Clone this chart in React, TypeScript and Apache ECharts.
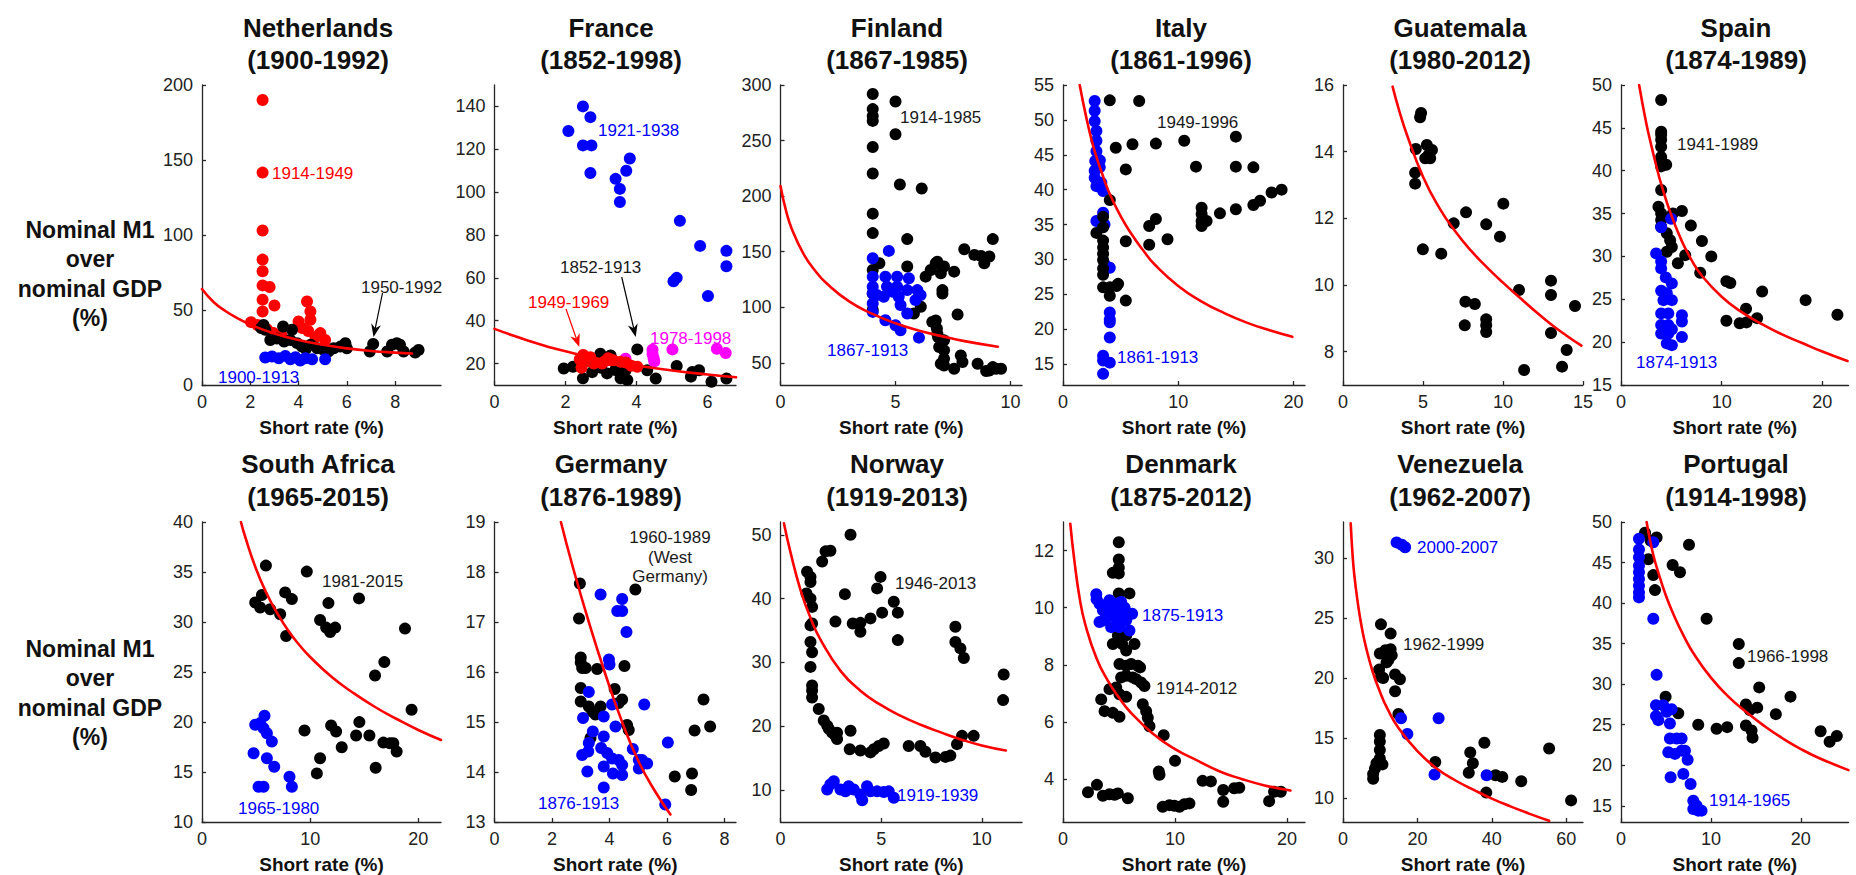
import React, { useEffect, useRef } from "react";
import * as echarts from "echarts";

type Pt = [number, number];

// ---------------- Netherlands (1900-1992) ----------------
const nlXTicks = [0, 2, 4, 6, 8];
const nlYTicks = [0, 50, 100, 150, 200];
const nlRed1914: Pt[] = [[2.51,190],[2.51,141.6],[2.51,103],[2.51,83.6],[2.51,75.8],[2.51,66.4],[2.8,65.3],[2.51,56.9],[2.51,49],[3.0,53],[2.03,41.9],[2.3,40],[2.7,37],[2.97,34.6],[3.3,33],[4.35,55.7],[4.49,49],[4.49,43.5],[4.0,42.4],[4.15,38],[4.4,36],[4.9,34.6],[5.1,30],[4.7,32]];
const nlBlack1950: Pt[] = [[2.55,40],[2.62,36.8],[2.45,38],[2.83,30],[3.1,31],[3.36,39],[3.73,36.8],[3.66,30],[3.94,27.9],[4.14,25.6],[4.5,26.8],[4.77,24.5],[5.04,23.4],[5.46,24.5],[5.73,25.6],[5.94,27.9],[6.0,24.5],[6.95,22.3],[7.09,27.4],[7.67,22.3],[7.87,26.8],[8.07,27.9],[8.2,26.8],[8.35,22.3],[8.83,21.6],[8.97,23.4],[3.4,29],[4.3,24],[5.25,22.5]];
const nlBlue1900: Pt[] = [[2.62,18.3],[2.9,19],[3.18,17.8],[3.45,19.4],[3.66,17.2],[3.87,18.5],[4.07,16.3],[4.28,17.8],[4.56,17.2],[5.1,17.2]];
const nlCurve: Pt[] = [[0,64],[0.5,55],[1,49],[1.5,44.3],[2,40.3],[3,34.3],[4,30],[5,26.8],[6,24.4],[7,22.7],[8,21.6],[8.7,21]];

// ---------------- France (1852-1998) ----------------
const frXTicks = [0, 2, 4, 6];
const frYTicks = [20, 40, 60, 80, 100, 120, 140];
const frBlue1921: Pt[] = [[2.08,128.5],[2.49,140],[2.7,135],[2.49,121.8],[2.73,121.8],[2.7,108.9],[3.41,106.2],[3.53,101.5],[3.53,95.4],[3.71,110],[3.81,115.7],[5.22,86.6],[5.04,58.4],[5.13,60],[5.79,74.9],[6.01,51.5],[6.53,72.6],[6.53,65.4]];
const frMagenta1978: Pt[] = [[4.45,26.5],[4.45,24.5],[4.48,22.5],[4.5,21],[5.01,26.6],[6.26,26.9],[6.51,24.9],[3.69,22.3]];
const frRed1949: Pt[] = [[2.4,22],[2.45,18],[2.5,24],[2.6,21],[2.7,23],[2.8,20],[3.03,20],[3.1,21],[3.2,22.5],[3.27,21.5],[3.35,21.5],[3.55,20.8],[3.7,20.5],[3.85,19],[4.02,18.5]];
const frBlack1852: Pt[] = [[1.95,17.7],[2.21,18.5],[2.49,13.1],[2.98,24.6],[3.17,15.4],[3.27,23.8],[3.55,13.1],[3.74,12.3],[3.69,16.9],[4.02,26.6],[4.3,16.9],[4.54,13],[5.13,18.9],[5.53,13.9],[5.57,16.1],[5.76,16.9],[6.11,11.5],[6.53,13],[2.75,16],[3.0,18],[3.4,17]];
const frCurve: Pt[] = [[0,36.2],[0.5,33.2],[1,30.4],[1.5,27.9],[2,25.7],[3,22],[4,19.1],[5,16.8],[6,14.9],[6.8,13.6]];

// ---------------- Finland (1867-1985) ----------------
const fiXTicks = [0, 5, 10];
const fiYTicks = [50, 100, 150, 200, 250, 300];
const fiBlack1914: Pt[] = [[4.01,291.9],[4.01,278.3],[4.01,272],[4.01,267.7],[4.01,244.2],[4.01,220.4],[4.01,184.2],[4.01,166.7],[5.0,285.2],[5.0,255.7],[5.19,210.4],[6.14,206.8],[5.51,161.3],[5.51,136.6],[4.3,139.6],[4.01,133.5],[6.31,127.5],[6.53,133.5],[6.82,141],[4.01,112.4],[5.8,94.3],[6.1,100.4],[6.6,86.8],[6.82,76.2],[6.9,64.2],[6.97,49.1],[6.75,139.6],[7.11,136.6],[6.97,130.5],[7.55,132],[7.04,115.4],[7.04,112.4],[7.7,93.4],[7.99,152.2],[8.43,147.1],[8.72,146.2],[8.86,139.6],[9.08,145.6],[9.23,161.3],[6.75,88],[6.8,80.8],[6.85,73.2],[7.55,44.6],[7.84,56.6],[7.91,50.6],[8.57,49.1],[8.94,42.5],[9.08,43.1],[9.23,46.1],[9.37,44.6],[9.59,44.6],[7.11,70.2],[7.11,61.2],[7.11,53.6],[7.11,47.6],[4.01,97.4]];
const fiBlue1867: Pt[] = [[4.01,144.1],[4.71,150.7],[4.01,127.5],[4.01,118.5],[4.01,112.4],[4.01,103.4],[4.01,95.8],[4.56,127.5],[4.63,118.5],[4.49,109.4],[5.07,127.5],[5.07,118.5],[5.14,109.4],[5.22,101.9],[5.58,126],[5.51,115.4],[5.95,115.4],[5.87,106.4],[6.09,110.9],[5.51,94.3],[4.56,88.3],[5.0,83.8],[5.22,79.3],[6.02,72.6],[4.2,110.9],[4.85,114]];
const fiCurve: Pt[] = [[0,209],[0.25,186],[0.5,170],[1,148],[1.5,133],[2,121.5],[3,105],[4,94],[5,85.5],[6,79],[7,74],[8,69.5],[9.45,64.5]];

// ---------------- Italy (1861-1996) ----------------
const itXTicks = [0, 10, 20];
const itYTicks = [15, 20, 25, 30, 35, 40, 45, 50, 55];
const itBlue1861: Pt[] = [[2.75,52.7],[2.75,51.3],[2.75,49.8],[2.9,48.4],[2.9,47],[2.9,45.5],[2.8,44.1],[2.75,42.7],[2.75,41.7],[3.19,43.2],[3.33,41],[3.48,39.8],[2.9,40.5],[2.9,35.5],[3.48,36.7],[3.62,29.3],[4.06,28.8],[4.06,22.4],[4.06,21.4],[4.06,21],[4.06,18.8],[3.48,16.2],[3.48,15.5],[4.06,15.2],[3.48,13.6],[3.2,44.2],[3.6,35]];
const itBlack1949: Pt[] = [[4.06,52.8],[6.61,52.7],[4.58,46],[6.03,46.5],[8.06,46.6],[10.52,47],[5.45,42.9],[4.06,38.5],[3.48,36.1],[2.9,33.8],[3.48,34.6],[3.48,32.7],[3.48,31.7],[3.48,30.8],[3.48,29.9],[3.48,28.7],[3.48,27.8],[3.48,26],[4.06,26],[4.64,26.2],[4.78,26.5],[4.06,24.8],[5.45,24.1],[5.45,32.6],[7.48,32.1],[7.48,34.8],[8.06,35.8],[9.07,32.9],[11.54,43.3],[12.03,37.4],[12.03,36.5],[12.03,35.5],[12.03,34.8],[12.46,35.5],[13.62,36.6],[15.0,47.6],[15.0,43.3],[16.52,43.2],[15.0,37.2],[16.52,37.8],[17.1,38.4],[18.1,39.6],[18.97,40]];
const itCurve: Pt[] = [[1.45,55],[2,50.5],[2.5,47],[3,44.2],[3.5,41.8],[4,39.6],[5,36.2],[6,33.5],[7,31.2],[8,29.2],[10,26.2],[12,24],[14,22.3],[16,20.9],[18,19.8],[19.9,18.9]];

// ---------------- Guatemala (1980-2012) ----------------
const gtXTicks = [0, 5, 10, 15];
const gtYTicks = [8, 10, 12, 14, 16];
const gtBlack: Pt[] = [[4.88,15.16],[4.82,15.03],[4.55,14.08],[4.51,13.37],[4.51,13.04],[5.24,14.2],[5.14,13.8],[5.35,13.9],[5.56,14.05],[5.45,13.8],[4.99,11.07],[6.14,10.94],[6.92,11.85],[7.69,12.18],[8.95,11.82],[10.02,12.44],[9.81,11.45],[7.65,9.5],[8.24,9.43],[7.61,8.79],[8.95,8.97],[8.95,8.79],[8.95,8.59],[11.0,9.85],[11.32,7.45],[13.0,10.13],[13.0,9.7],[14.5,9.37],[13.0,8.56],[13.98,8.05],[13.69,7.55]];
const gtCurve: Pt[] = [[3.1,15.95],[3.5,15.25],[4,14.5],[5,13.25],[6,12.33],[7,11.62],[8,11.03],[9,10.53],[10,10.07],[11,9.64],[12,9.22],[13,8.82],[14,8.47],[14.9,8.18]];

// ---------------- Spain (1874-1989) ----------------
const esXTicks = [0, 10, 20];
const esYTicks = [15, 20, 25, 30, 35, 40, 45, 50];
const esBlack1941: Pt[] = [[3.99,48.25],[3.99,44.55],[3.99,44.2],[3.99,43.6],[3.99,42.8],[3.99,41.6],[3.99,41.05],[3.99,40.5],[4.49,40.7],[3.99,37.75],[3.72,35.8],[3.99,35],[3.99,34.25],[3.99,33.5],[4.55,32.7],[4.88,31.9],[5.05,31.1],[4.55,30.55],[5.15,35],[6.05,35.3],[6.94,33.6],[8.04,31.8],[6.38,30.15],[5.65,29.2],[8.97,30],[7.87,28.1],[10.47,27.1],[10.86,26.9],[14.02,25.9],[18.34,24.9],[21.5,23.2],[10.47,22.5],[11.79,22.2],[12.46,22.3],[12.42,23.9],[13.52,22.8]];
const esBlue1874: Pt[] = [[4.98,34.4],[3.99,33.4],[3.49,30.35],[3.99,29.4],[3.99,28.6],[4.45,27.55],[5.05,26.85],[3.99,26],[4.55,25.7],[4.22,24.9],[5.05,24.9],[3.99,23.35],[4.7,23.35],[3.99,22],[4.7,22],[3.99,21],[4.7,21],[5.05,21.5],[4.55,19.85],[5.05,19.65],[6.05,23.15],[6.05,22.4],[6.05,20.6]];
const esCurve: Pt[] = [[1.8,50],[2.5,45.6],[3,43],[3.5,40.6],[4,38.4],[5,34.8],[6,31.9],[7,29.6],[8,27.8],[10,25.3],[12,23.5],[14,22.1],[16,20.9],[18,19.9],[20,18.9],[22.5,17.8]];

// ---------------- South Africa (1965-2015) ----------------
const saXTicks = [0, 10, 20];
const saYTicks = [10, 15, 20, 25, 30, 35, 40];
const saBlack1981: Pt[] = [[5.91,35.64],[9.69,35.04],[4.92,31.95],[5.54,32.7],[5.38,31.45],[6.31,31.28],[7.23,30.78],[7.69,32.96],[8.31,32.29],[7.78,28.6],[10.92,30.2],[11.69,31.89],[11.48,29.44],[11.85,29],[12.31,29.44],[14.52,32.36],[16,24.65],[16.86,25.99],[9.48,19.15],[11.94,19.65],[12.4,19.05],[12.92,17.47],[14.55,19.99],[14.25,18.65],[15.48,18.65],[10.92,16.37],[10.62,14.86],[16.06,15.43],[16.77,17.94],[17.38,17.87],[17.69,17.87],[18,17.04],[18.77,29.34],[19.38,21.23]];
const saBlue1965: Pt[] = [[5.78,20.62],[4.92,19.72],[5.38,19.89],[5.69,19.38],[6,18.88],[6.46,18.04],[4.77,16.87],[6,16.37],[6.68,15.53],[5.23,13.52],[5.69,13.52],[8.09,14.52],[8.31,13.52]];
const saCurve: Pt[] = [[3.6,40],[4,38.5],[5,35.3],[6,32.8],[7,30.8],[8,29.1],[9,27.7],[10,26.5],[12,24.5],[14,22.9],[16,21.5],[18,20.3],[20,19.2],[22.1,18.2]];

// ---------------- Germany (1876-1989) ----------------
const deXTicks = [0, 2, 4, 6, 8];
const deYTicks = [13, 14, 15, 16, 17, 18, 19];
const deBlack1960: Pt[] = [[2.97,17.77],[2.94,17.07],[3,16.29],[3,16.19],[3.05,16.08],[3.17,16.08],[3,15.68],[3,15.41],[3.57,16.06],[3.28,15.31],[3.4,15.21],[3.51,15.15],[3.69,15.31],[4.18,15.66],[4.44,15.45],[4.32,15.38],[4.52,16.12],[4.61,14.94],[4.67,14.84],[4.9,17.65],[3.34,14.68],[7.27,15.45],[7.5,14.91],[6.96,14.83],[6.27,13.91],[6.87,13.97],[6.84,13.64]];
const deBlue1876: Pt[] = [[3.69,17.55],[4.44,17.46],[4.27,17.22],[4.44,17.22],[4.59,16.8],[3.98,16.25],[4,16.15],[3.28,15.6],[4.09,15.35],[3.08,15.08],[3.8,15.11],[4.21,14.91],[3.42,14.81],[3.28,14.58],[3.26,14.41],[3.8,14.71],[3.05,14.34],[3.71,14.48],[3.92,14.38],[4.09,14.27],[4.32,14.24],[4.44,14.14],[4.12,13.97],[4.44,13.94],[3.8,14.11],[3.23,14.01],[3.8,13.69],[4.81,14.46],[5.02,14.24],[5.02,14.07],[5.21,15.35],[5.13,14.24],[5.31,14.17],[6.03,14.59],[5.94,13.35]];
const deCurve: Pt[] = [[2.31,19],[2.7,18.15],[3.28,17.0],[3.86,15.95],[4.44,15.0],[5.02,14.2],[5.6,13.6],[6.12,13.15]];

// ---------------- Norway (1919-2013) ----------------
const noXTicks = [0, 5, 10];
const noYTicks = [10, 20, 30, 40, 50];
const noBlack1946: Pt[] = [[3.48,50],[2.07,45.8],[2.24,47.4],[2.48,47.5],[1.32,44.2],[1.49,43.4],[1.49,42.6],[1.29,40.8],[1.49,40],[1.57,38.7],[3.2,40.7],[1.49,35.8],[1.57,36.1],[2.73,36.4],[3.59,36.1],[3.97,36.2],[3.97,34.8],[4.47,36.9],[4.8,41.6],[4.97,43.4],[5.05,37.8],[5.63,39.5],[5.83,37.8],[5.83,33.5],[1.49,33.2],[1.57,31.6],[1.49,29.3],[1.57,26.4],[1.57,25.6],[1.57,24.5],[1.9,22.7],[2.15,20.9],[2.32,20.1],[2.4,19.6],[2.57,19],[2.81,19],[2.81,18],[2.73,18.5],[3.48,19.3],[3.44,16.4],[3.97,16.2],[4.47,15.9],[4.64,16.4],[4.88,16.9],[5.13,17.3],[6.37,16.9],[6.95,16.9],[7.2,16],[7.7,15.1],[8.2,15.2],[8.44,15.4],[8.77,17.2],[9.02,18.5],[9.6,18.5],[8.69,35.6],[8.69,33.2],[8.94,32.2],[9.11,30.7],[11.09,28.1],[11.06,24.1]];
const noBlue1919: Pt[] = [[2.48,10.9],[2.65,11.4],[2.98,10.1],[3.23,9.8],[3.39,10.6],[3.64,10.1],[3.97,9.3],[4.06,8.4],[4.3,10.6],[4.47,9.8],[4.8,9.8],[5.13,9.7],[5.38,9.8],[5.63,8.8],[2.32,10.1]];
const noCurve: Pt[] = [[0.17,51.8],[0.5,47.2],[1,41.3],[1.5,36.9],[2,33.5],[3,28.6],[4,25.5],[5,23.3],[6,21.6],[7,20.2],[8,19],[9,17.9],[10,17],[11.2,16.2]];

// ---------------- Denmark (1875-2012) ----------------
const dkXTicks = [0, 10, 20];
const dkYTicks = [4, 6, 8, 10, 12];
const dkBlue1875: Pt[] = [[2.97,10.47],[3.26,10.14],[3.56,9.91],[3.86,9.67],[3.26,9.5],[4.15,10.26],[4.45,10.03],[4.75,10.14],[5.19,10.2],[4.15,9.73],[4.75,9.61],[5.19,9.85],[5.64,9.56],[4.3,9.32],[5.04,9.32],[5.93,9.2],[6.17,9.79],[3.6,9.55],[4.0,10.0],[4.6,9.9],[5.5,10.0],[3.0,10.3]];
const dkBlack1914: Pt[] = [[4.98,12.29],[4.98,11.69],[4.98,11.4],[4.45,11.22],[4.98,11.2],[4.98,10.5],[5.93,10.5],[4.9,9.03],[5.64,9.03],[4.45,8.73],[5.28,8.73],[6.38,8.73],[5.64,8.5],[5.04,8.03],[5.64,7.97],[6.08,8.03],[6.68,7.97],[6.88,7.91],[5.19,7.56],[5.64,7.62],[6.23,7.56],[6.53,7.5],[6.97,7.38],[7.27,7.26],[4.15,7.15],[4.75,7.21],[5.04,6.97],[5.64,6.88],[3.41,6.79],[3.71,6.38],[4.45,6.32],[5.04,6.18],[7.12,6.62],[7.42,6.38],[7.57,6.15],[7.72,5.85],[8.99,5.54],[10,4.64],[8.55,4.27],[8.61,4.15],[2.23,3.54],[3.03,3.8],[3.56,3.42],[4.15,3.47],[4.6,3.45],[4.9,3.5],[5.79,3.33],[8.9,3.03],[9.5,3.09],[9.94,3.07],[10.39,3.03],[10.83,3.12],[11.28,3.15],[12.46,3.94],[13.2,3.92],[14.3,3.62],[14.3,3.21],[15.28,3.68],[15.73,3.7],[18.4,3.23],[18.84,3.56],[19.44,3.56]];
const dkCurve: Pt[] = [[0.65,12.94],[1,11.7],[1.5,10.3],[2,9.4],[3,8.22],[4,7.45],[5,6.85],[6,6.35],[8,5.6],[10,5.05],[12,4.65],[14,4.27],[16,4.0],[18,3.78],[20.3,3.6]];

// ---------------- Venezuela (1962-2007) ----------------
const veXTicks = [0, 20, 40, 60];
const veYTicks = [10, 15, 20, 25, 30];
const veBlue2000: Pt[] = [[14.4,31.3],[15.8,31.1],[16.7,30.9],[15.6,16.65],[17.3,15.33],[25.7,16.65],[24.6,11.96],[38.6,11.9]];
const veBlack1962: Pt[] = [[10.2,24.47],[9.9,22.04],[11.4,22.32],[12.8,23.7],[12.8,22.4],[13.1,21.9],[12.2,21.5],[11.7,21.3],[9.7,20.7],[10.2,20.1],[10.8,20],[14,20.3],[15.3,19.9],[14,18.9],[14.9,17],[9.9,15.25],[9.9,14.7],[9.9,14],[9.9,13.3],[9,12.9],[10.6,12.8],[8.6,12.46],[8.1,12],[8.1,11.6],[24.8,13],[34.2,13.8],[34.9,12.9],[33.8,12.1],[38,14.6],[38.5,10.45],[41,11.9],[42.8,11.76],[47.9,11.4],[55.4,14.13],[61.3,9.8]];
const veCurve: Pt[] = [[2.07,32.9],[2.5,30.6],[3,28.7],[4,26.2],[5,24.3],[6,22.8],[8,20.5],[10,18.8],[12,17.4],[15,15.8],[20,13.9],[25,12.5],[30,11.5],[35,10.7],[40,9.95],[45,9.3],[50,8.7],[55.4,8.1]];

// ---------------- Portugal (1914-1998) ----------------
const ptXTicks = [0, 10, 20];
const ptYTicks = [15, 20, 25, 30, 35, 40, 45, 50];
const ptBlue1914: Pt[] = [[2,47.93],[2,46.6],[2,45.65],[2,44.6],[2,43.8],[2,42.96],[2,42.13],[2,41.3],[2,40.7],[3.59,47.5],[3.59,38.07],[3.96,31.15],[3.89,27.4],[4.15,25.56],[4.7,27.4],[5.07,26.6],[3.89,26.06],[5.63,26.9],[5.44,25.14],[5.44,23.3],[6.19,23.3],[6.74,23.3],[5.26,21.6],[6,21.4],[6.74,21.8],[7.11,21.8],[7.41,20.67],[5.52,18.52],[6.93,18.93],[7.74,17.69],[8.04,15.62],[8.41,15],[8.96,14.4],[8.04,14.6],[8.59,14.4]];
const ptBlack1966: Pt[] = [[2.67,48.67],[3.3,47.7],[3.96,48.1],[3.04,45.4],[3.59,43.45],[3.78,41.6],[7.56,47.2],[5.74,44.7],[6.56,43.8],[9.52,38.07],[13.1,34.96],[13.1,32.6],[4.96,28.46],[6.37,26.4],[8.59,25],[10.63,24.5],[11.81,24.7],[13.89,27.5],[14.33,26.8],[15.15,27.1],[15.37,29.6],[17.22,26.3],[18.85,28.46],[13.89,24.9],[14.52,24.3],[14.63,23.4],[22.2,24.2],[23.2,22.9],[24,23.6]];
const ptCurve: Pt[] = [[2.85,50],[3.2,47.9],[3.6,45.9],[4,44.3],[5,40.9],[6,38.2],[7,35.9],[8,33.9],[10,30.8],[12,28.4],[14,26.5],[16,24.8],[18,23.3],[20,22],[22,20.9],[25.3,19.4]];

// ---------------- styling / layout ----------------
const RED = "#ff0000";
const BLUE = "#0000ff";
const BLACK = "#000000";
const MAGENTA = "#ff00ff";
const FONT = "'Liberation Sans', Arial, Helvetica, sans-serif";
const AXIS_COLOR = "#262626";

const COL_LEFT = [202, 494.5, 780.5, 1063, 1343, 1621];
const COL_RIGHT = [441, 736, 1022, 1305, 1583, 1848.5];
const TITLE_X = [318, 611, 897, 1181, 1460, 1736];
const ROW_TOP = [85, 522];
const ROW_H = [300, 300];

interface Group { data: Pt[]; color: string }
interface Panel {
  name: string; years: string; row: number; col: number;
  xMax: number; yMin: number; yMax: number;
  xTicks: number[]; yTicks: number[];
  under: Group[]; curve: Pt[]; over: Group[];
}

const panels: Panel[] = [
  { name: "Netherlands", years: "(1900-1992)", row: 0, col: 0, xMax: 9.9, yMin: 0, yMax: 200, xTicks: nlXTicks, yTicks: nlYTicks,
    under: [], curve: nlCurve, over: [{ data: nlRed1914, color: RED }, { data: nlBlack1950, color: BLACK }, { data: nlBlue1900, color: BLUE }] },
  { name: "France", years: "(1852-1998)", row: 0, col: 1, xMax: 6.8, yMin: 10, yMax: 150, xTicks: frXTicks, yTicks: frYTicks,
    under: [], curve: frCurve, over: [{ data: frBlack1852, color: BLACK }, { data: frBlue1921, color: BLUE }, { data: frMagenta1978, color: MAGENTA }, { data: frRed1949, color: RED }] },
  { name: "Finland", years: "(1867-1985)", row: 0, col: 2, xMax: 10.5, yMin: 30, yMax: 300, xTicks: fiXTicks, yTicks: fiYTicks,
    under: [{ data: fiBlack1914, color: BLACK }, { data: fiBlue1867, color: BLUE }], curve: fiCurve, over: [] },
  { name: "Italy", years: "(1861-1996)", row: 0, col: 3, xMax: 21, yMin: 12, yMax: 55, xTicks: itXTicks, yTicks: itYTicks,
    under: [{ data: itBlue1861, color: BLUE }, { data: itBlack1949, color: BLACK }], curve: itCurve, over: [] },
  { name: "Guatemala", years: "(1980-2012)", row: 0, col: 4, xMax: 15, yMin: 7, yMax: 16, xTicks: gtXTicks, yTicks: gtYTicks,
    under: [{ data: gtBlack, color: BLACK }], curve: gtCurve, over: [] },
  { name: "Spain", years: "(1874-1989)", row: 0, col: 5, xMax: 22.6, yMin: 15, yMax: 50, xTicks: esXTicks, yTicks: esYTicks,
    under: [{ data: esBlack1941, color: BLACK }, { data: esBlue1874, color: BLUE }], curve: esCurve, over: [] },
  { name: "South Africa", years: "(1965-2015)", row: 1, col: 0, xMax: 22.1, yMin: 10, yMax: 40, xTicks: saXTicks, yTicks: saYTicks,
    under: [{ data: saBlack1981, color: BLACK }, { data: saBlue1965, color: BLUE }], curve: saCurve, over: [] },
  { name: "Germany", years: "(1876-1989)", row: 1, col: 1, xMax: 8.4, yMin: 13, yMax: 19, xTicks: deXTicks, yTicks: deYTicks,
    under: [{ data: deBlack1960, color: BLACK }, { data: deBlue1876, color: BLUE }], curve: deCurve, over: [] },
  { name: "Norway", years: "(1919-2013)", row: 1, col: 2, xMax: 12, yMin: 5, yMax: 52, xTicks: noXTicks, yTicks: noYTicks,
    under: [{ data: noBlack1946, color: BLACK }, { data: noBlue1919, color: BLUE }], curve: noCurve, over: [] },
  { name: "Denmark", years: "(1875-2012)", row: 1, col: 3, xMax: 21.6, yMin: 2.5, yMax: 13, xTicks: dkXTicks, yTicks: dkYTicks,
    under: [{ data: dkBlack1914, color: BLACK }, { data: dkBlue1875, color: BLUE }], curve: dkCurve, over: [] },
  { name: "Venezuela", years: "(1962-2007)", row: 1, col: 4, xMax: 64.5, yMin: 8, yMax: 33, xTicks: veXTicks, yTicks: veYTicks,
    under: [{ data: veBlack1962, color: BLACK }, { data: veBlue2000, color: BLUE }], curve: veCurve, over: [] },
  { name: "Portugal", years: "(1914-1998)", row: 1, col: 5, xMax: 25.3, yMin: 13, yMax: 50, xTicks: ptXTicks, yTicks: ptYTicks,
    under: [{ data: ptBlack1966, color: BLACK }, { data: ptBlue1914, color: BLUE }], curve: ptCurve, over: [] },
];

// annotation texts: [text, x, y, color]
const annotations: [string, number, number, string][] = [
  ["1914-1949", 272, 173, RED], ["1900-1913", 218, 377, BLUE], ["1950-1992", 361, 287, BLACK],
  ["1921-1938", 598, 130, BLUE], ["1852-1913", 560, 267, BLACK], ["1949-1969", 528, 302, RED], ["1978-1998", 650, 338, MAGENTA],
  ["1914-1985", 900, 117, BLACK], ["1867-1913", 827, 350, BLUE],
  ["1949-1996", 1157, 122, BLACK], ["1861-1913", 1117, 357, BLUE],
  ["1941-1989", 1677, 144, BLACK], ["1874-1913", 1636, 362, BLUE],
  ["1981-2015", 322, 581, BLACK], ["1965-1980", 238, 808, BLUE],
  ["1876-1913", 538, 803, BLUE],
  ["1946-2013", 895, 583, BLACK], ["1919-1939", 897, 795, BLUE],
  ["1875-1913", 1142, 615, BLUE], ["1914-2012", 1156, 688, BLACK],
  ["2000-2007", 1417, 547, BLUE], ["1962-1999", 1403, 644, BLACK],
  ["1966-1998", 1747, 656, BLACK], ["1914-1965", 1709, 800, BLUE],
];

function arrow(x1: number, y1: number, x2: number, y2: number, color: string): any[] {
  const dx = x2 - x1, dy = y2 - y1;
  const len = Math.hypot(dx, dy);
  const ux = dx / len, uy = dy / len, nx = -uy, ny = ux;
  const L = 13, W = 5, N = 9;
  const bx = x2 - ux * L, by = y2 - uy * L;
  const mx = x2 - ux * N, my = y2 - uy * N;
  return [
    { type: "line", shape: { x1, y1, x2: mx, y2: my }, style: { stroke: color, lineWidth: 1.2 } },
    { type: "polygon", shape: { points: [[x2, y2], [bx + nx * W, by + ny * W], [mx, my], [bx - nx * W, by - ny * W]] }, style: { fill: color } },
  ];
}

function buildOption(): any {
  const grid: any[] = [];
  const xAxis: any[] = [];
  const yAxis: any[] = [];
  const series: any[] = [];
  const graphic: any[] = [];

  const axisCommon = {
    type: "value",
    splitLine: { show: false },
    axisLine: { show: true, onZero: false, lineStyle: { color: AXIS_COLOR, width: 1.3 } },
    axisTick: { show: true, inside: true, length: 4, lineStyle: { color: AXIS_COLOR, width: 1.3 } },
  };
  const labelCommon = { color: "#222", fontSize: 18, fontFamily: FONT };

  panels.forEach((p, i) => {
    const left = COL_LEFT[p.col];
    const width = COL_RIGHT[p.col] - left;
    const top = ROW_TOP[p.row];
    const height = ROW_H[p.row];
    grid.push({ left, top, width, height, containLabel: false });
    xAxis.push({
      ...axisCommon, gridIndex: i, min: 0, max: p.xMax,
      axisTick: { ...axisCommon.axisTick, customValues: p.xTicks },
      axisLabel: { ...labelCommon, margin: 8, customValues: p.xTicks },
    });
    yAxis.push({
      ...axisCommon, gridIndex: i, min: p.yMin, max: p.yMax,
      axisTick: { ...axisCommon.axisTick, customValues: p.yTicks },
      axisLabel: { ...labelCommon, margin: 9, customValues: p.yTicks },
    });
    const scatter = (g: Group) => ({
      type: "scatter", xAxisIndex: i, yAxisIndex: i, data: g.data, symbol: "circle", symbolSize: 12,
      itemStyle: { color: g.color, opacity: 1 }, clip: false, silent: true,
    });
    p.under.forEach((g) => series.push(scatter(g)));
    series.push({
      type: "line", xAxisIndex: i, yAxisIndex: i, data: p.curve, smooth: 0.5,
      showSymbol: false, symbol: "none", lineStyle: { color: RED, width: 2.6, cap: "round", join: "round" }, silent: true,
    });
    p.over.forEach((g) => series.push(scatter(g)));

    graphic.push({
      type: "text", x: TITLE_X[p.col], y: p.row === 0 ? 44 : 480,
      style: {
        text: p.name + "\n" + p.years, fontFamily: FONT, fontSize: 26, fontWeight: "bold",
        fill: "#111", textAlign: "center", textVerticalAlign: "middle", lineHeight: p.row === 0 ? 32 : 33,
      },
    });
    graphic.push({
      type: "text", x: left + width / 2, y: top + height + 42,
      style: { text: "Short rate (%)", fontFamily: FONT, fontSize: 19, fontWeight: "bold", fill: "#111", textAlign: "center", textVerticalAlign: "middle" },
    });
  });

  [274, 693].forEach((cy) => {
    graphic.push({
      type: "text", x: 90, y: cy,
      style: {
        text: "Nominal M1\nover\nnominal GDP\n(%)", fontFamily: FONT, fontSize: 23, fontWeight: "bold",
        fill: "#111", textAlign: "center", textVerticalAlign: "middle", lineHeight: 29.3,
      },
    });
  });

  annotations.forEach(([t, x, y, c]) => {
    graphic.push({
      type: "text", x, y,
      style: { text: t, fontFamily: FONT, fontSize: 17, fill: c === BLACK ? "#1a1a1a" : c, textAlign: "left", textVerticalAlign: "middle" },
    });
  });
  graphic.push({
    type: "text", x: 670, y: 557,
    style: { text: "1960-1989\n(West\nGermany)", fontFamily: FONT, fontSize: 17, fill: "#1a1a1a", textAlign: "center", textVerticalAlign: "middle", lineHeight: 19.5 },
  });

  graphic.push(...arrow(382.5, 293, 373.5, 337, BLACK));
  graphic.push(...arrow(621.7, 277, 635.7, 337, BLACK));
  graphic.push(...arrow(566, 309, 579.3, 347, RED));

  return {
    animation: false,
    backgroundColor: "#ffffff",
    grid, xAxis, yAxis, series, graphic,
  };
}

export default function App() {
  const ref = useRef<HTMLDivElement>(null);
  useEffect(() => {
    if (!ref.current) return;
    const chart = echarts.init(ref.current, undefined, { renderer: "svg" });
    chart.setOption(buildOption());
    return () => chart.dispose();
  }, []);
  return (
    <div
      ref={ref}
      style={{ position: "fixed", left: 0, top: 0, width: 1856, height: 875, background: "#fff" }}
    />
  );
}
